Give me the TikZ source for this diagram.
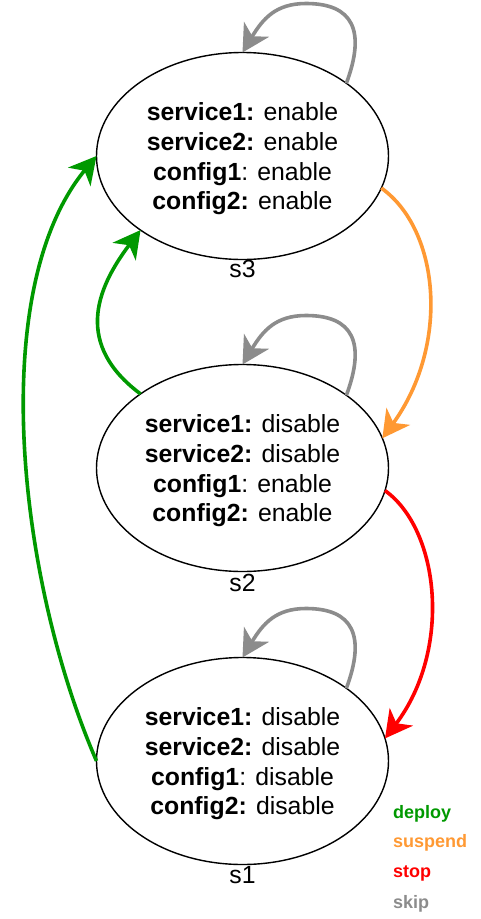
\documentclass[tikz,border=0pt]{standalone}
\usepackage{fontspec}
\setmainfont{Liberation Sans}
\usetikzlibrary{arrows.meta,shapes.geometric,calc}
\definecolor{deploycol}{HTML}{009900}
\definecolor{suspendcol}{HTML}{FF9933}
\definecolor{stopcol}{HTML}{FF0000}
\definecolor{skipcol}{HTML}{8C8C8C}
\begin{document}
\begin{tikzpicture}[x=1pt,y=-1pt,
  state/.style={ellipse, draw, line width=1.4pt, minimum width=292pt,
    minimum height=207pt, inner sep=0pt, outer sep=0pt, align=center,
    font=\fontsize{24.8}{29.7}\selectfont},
  statename/.style={inner sep=0pt, font=\fontsize{24.8}{24.8}\selectfont},
  trans/.style={line width=3.6pt, -{Stealth[length=27pt,width=29pt,inset=8pt]}},
  legend/.style={anchor=base west, inner sep=0pt,
    font=\fontsize{18}{18}\selectfont\bfseries}]
\fill[white] (0,0) rectangle (481,919);
\useasboundingbox (0,0) rectangle (481,919);

% states (the strut in the first line sets the text block a little lower)
\node[state] (s3) at (242.5,156)
  {\rule{0pt}{24pt}\textbf{service1:} enable\\ \textbf{service2:} enable\\
   \textbf{config1}: enable\\ \textbf{config2:} enable};
\node[state] (s2) at (242.5,468)
  {\rule{0pt}{24pt}\textbf{service1:} disable\\ \textbf{service2:} disable\\
   \textbf{config1}: enable\\ \textbf{config2:} enable};
\node[state] (s1) at (242.5,761)
  {\rule{0pt}{24pt}\textbf{service1:} disable\\ \textbf{service2:} disable\\
   \textbf{config1}: disable\\ \textbf{config2:} disable};

% state names
\node[statename] (n3) at ($(s3.south)+(0,9)$) {s3};
\node[statename] (n2) at ($(s2.south)+(0,11)$) {s2};
\node[statename] (n1) at ($(s1.south)+(0,11)$) {s1};

% skip: self loops
\foreach \s in {s1,s2,s3}{
  \draw[trans, skipcol] (\s.35)
    .. controls ($(\s.north)+(123.5,-22)$) and ($(\s.north)+(110.5,-49)$)
    .. ($(\s.north)+(63.5,-49)$)
    .. controls ($(\s.north)+(33.5,-49)$) and ($(\s.north)+(20.5,-34)$)
    .. (\s.north);
}

% suspend and stop
\draw[trans, suspendcol] (s3.-13) .. controls (440,230) and (450,345) .. (s2.12);
\draw[trans, stopcol] (s2.-9) .. controls (440,530) and (452,650) .. (s1.9);

% deploy
\draw[trans, deploycol] (s2.144) .. controls (75,345) and (95,290) .. (s3.216);
\draw[trans, deploycol] (s1.west) .. controls (18,580) and (-14,290) .. (s3.west);

% legend
\node[legend, text=deploycol] (lg1) at (393,818) {deploy};
\node[legend, text=suspendcol] (lg2) at (393,847) {suspend};
\node[legend, text=stopcol] (lg3) at (393,877.5) {stop};
\node[legend, text=skipcol] (lg4) at (393,908) {skip};
\end{tikzpicture}
\end{document}
